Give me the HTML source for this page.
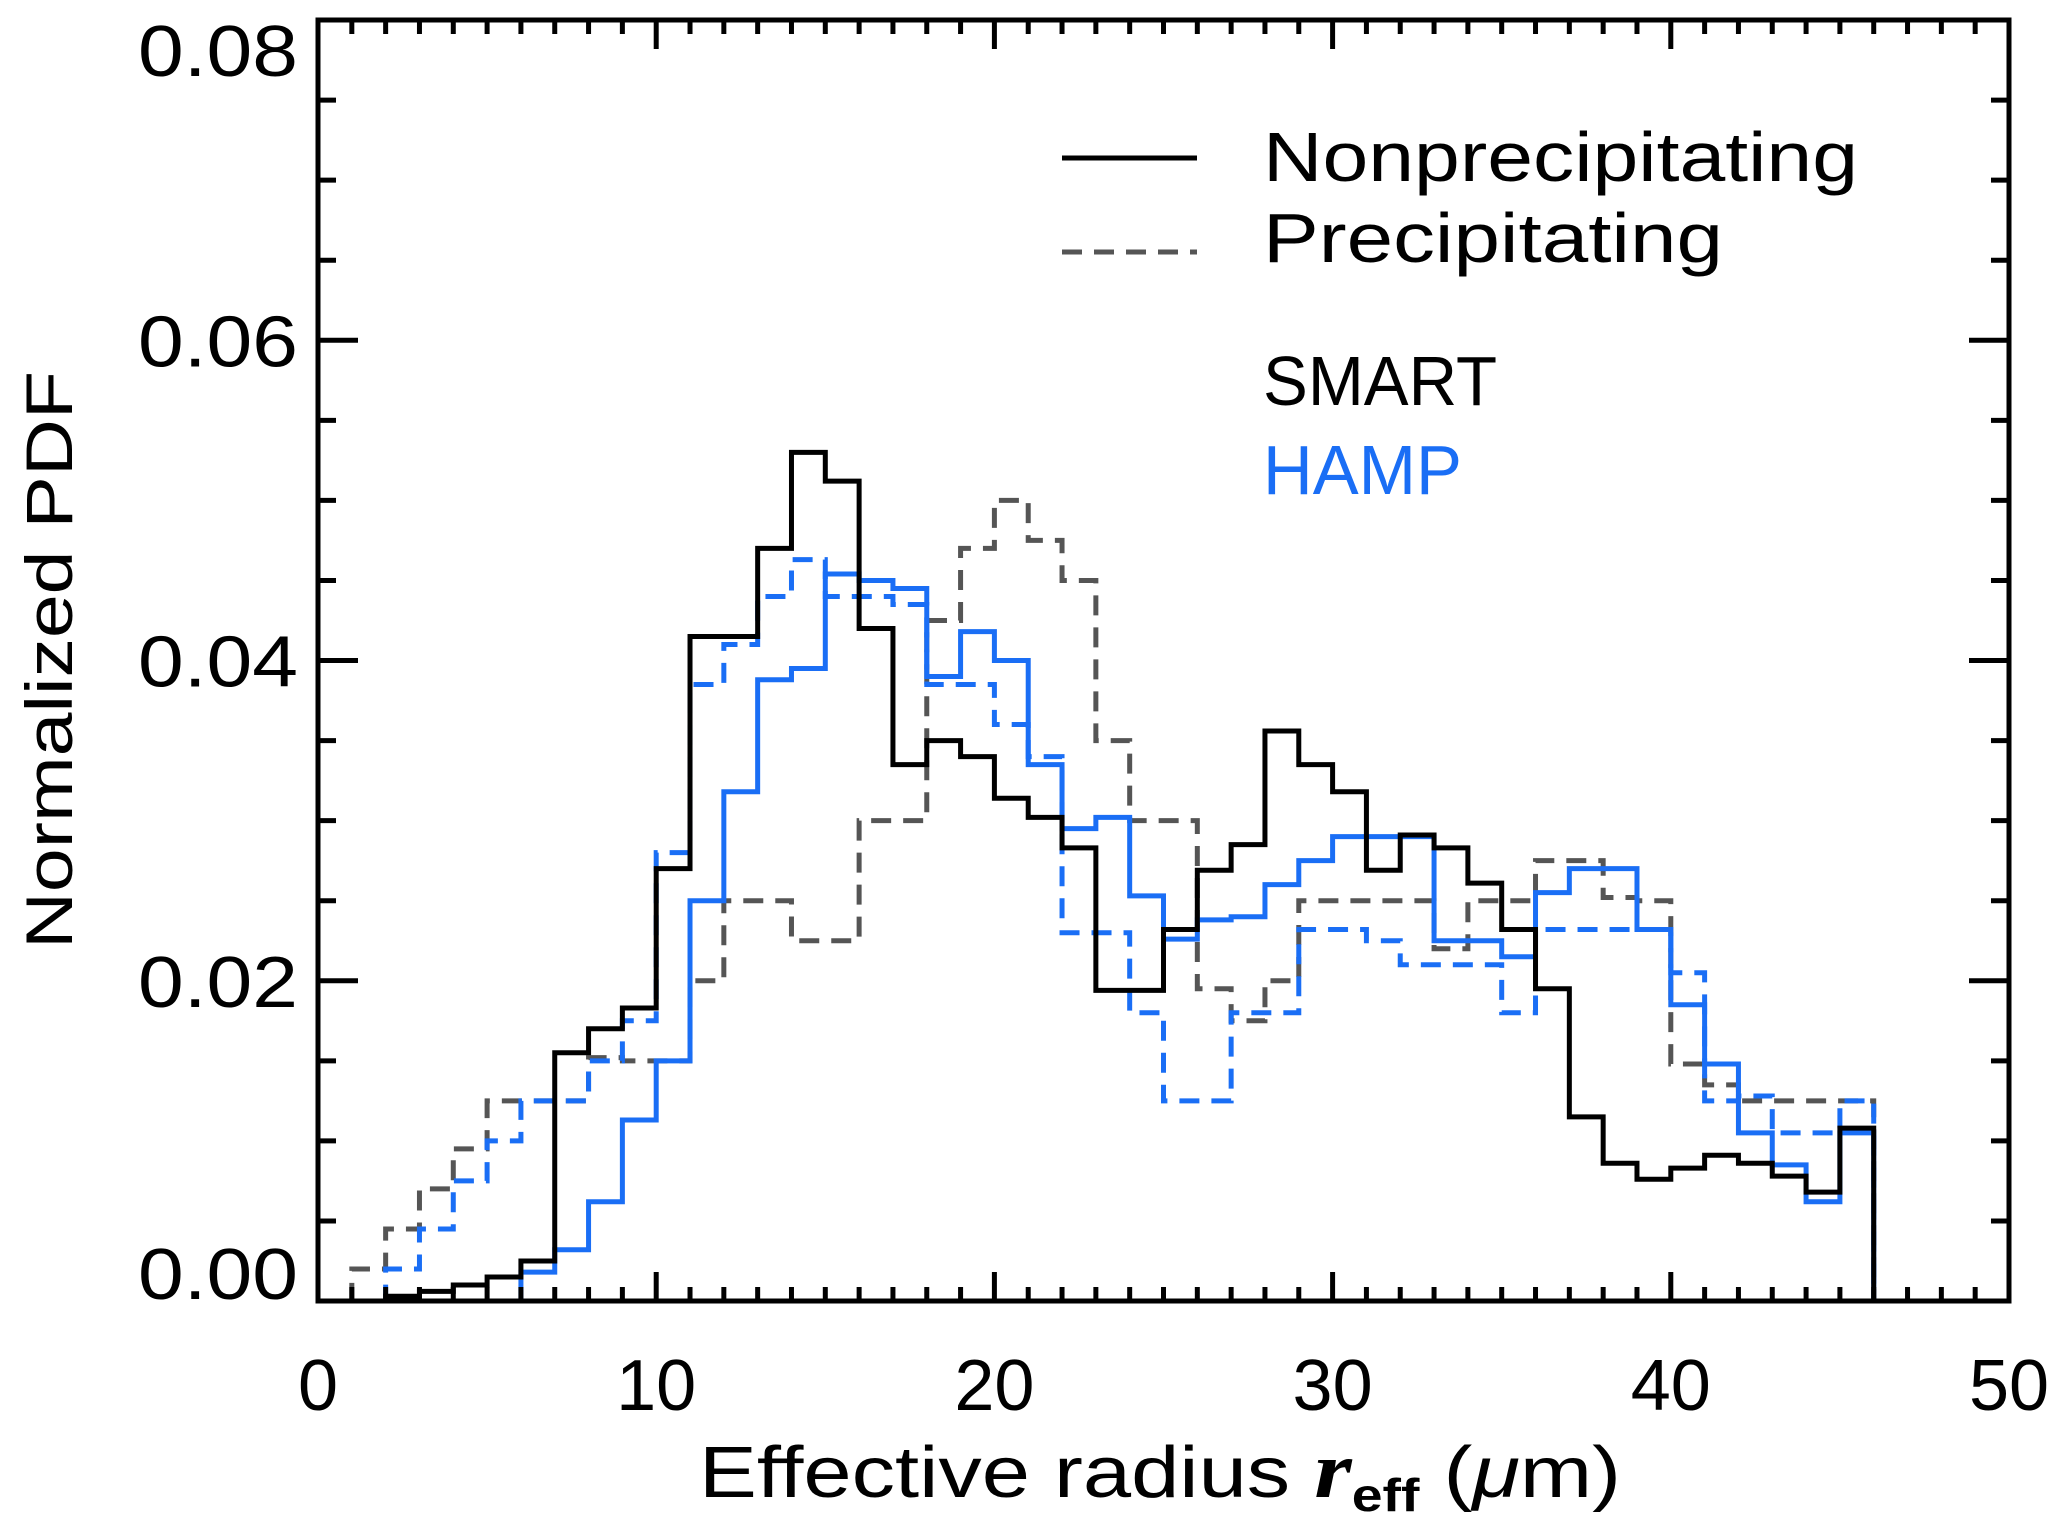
<!DOCTYPE html>
<html><head><meta charset="utf-8"><style>html,body{margin:0;padding:0;background:#fff}svg{display:block}</style></head>
<body>
<svg id="chart" width="2067" height="1535" viewBox="0 0 2067 1535" xmlns="http://www.w3.org/2000/svg" font-family="Liberation Sans, sans-serif">
<g id="marks"></g>
<g id="axes"></g>
<text x="0" y="0" transform="translate(72,660) rotate(-90)" text-anchor="middle" font-size="66" textLength="578" lengthAdjust="spacingAndGlyphs">Normalized PDF</text>
<text x="699" y="1497" font-size="72" textLength="922" lengthAdjust="spacingAndGlyphs">Effective  radius <tspan font-style="italic" font-weight="bold" font-family="Liberation Serif, serif" font-size="80">r</tspan><tspan font-size="46" dy="14" font-weight="bold">eff</tspan><tspan dy="-14"> (</tspan><tspan font-style="italic">μ</tspan>m)</text>
<g>
<line x1="1062" y1="158" x2="1197" y2="158" stroke="#000" stroke-width="5"/>
<text x="1263" y="181" font-size="70" textLength="595" lengthAdjust="spacingAndGlyphs">Nonprecipitating</text>
<line x1="1062" y1="252" x2="1197" y2="252" stroke="#555" stroke-width="5" stroke-dasharray="20,12"/>
<text x="1263" y="262" font-size="70" textLength="460" lengthAdjust="spacingAndGlyphs">Precipitating</text>
<text x="1263" y="405" font-size="70" textLength="234" lengthAdjust="spacingAndGlyphs">SMART</text>
<text x="1263" y="494" font-size="70" fill="#1a6ef5" textLength="199" lengthAdjust="spacingAndGlyphs">HAMP</text>
</g>
</svg>
<script>
const binStart = 0;
const binWidth = 1;
const xTicks = [0,10,20,30,40,50];
const yTicks = [0.00,0.02,0.04,0.06,0.08];
const yTickLabels = ["0.00","0.02","0.04","0.06","0.08"];
const smartNonprecip = [0,0,0.0003,0.0006,0.001,0.0015,0.0025,0.0155,0.017,0.0183,0.027,0.0415,0.0415,0.047,0.053,0.0512,0.042,0.0335,0.035,0.034,0.0314,0.0302,0.0283,0.0194,0.0194,0.0232,0.0269,0.0285,0.0356,0.0335,0.0318,0.0269,0.0291,0.0283,0.0261,0.0232,0.0195,0.0115,0.0086,0.0076,0.0083,0.0091,0.0086,0.0078,0.0068,0.0108];
const hampNonprecip = [0,0,0,0,0,0,0.0018,0.0032,0.0062,0.0113,0.015,0.025,0.0318,0.0388,0.0395,0.0454,0.045,0.0445,0.039,0.0418,0.040,0.0335,0.0295,0.0302,0.0253,0.0226,0.0238,0.024,0.026,0.0275,0.029,0.029,0.029,0.0225,0.0225,0.0215,0.0255,0.027,0.027,0.0232,0.0185,0.0148,0.0105,0.0085,0.0062,0.0105];
const smartPrecip = [0,0.002,0.0045,0.007,0.0095,0.0125,0.0125,0.0125,0.0152,0.015,0.015,0.020,0.025,0.025,0.0225,0.0225,0.030,0.030,0.0425,0.047,0.050,0.0475,0.045,0.035,0.030,0.030,0.0195,0.0175,0.020,0.025,0.025,0.025,0.025,0.022,0.025,0.025,0.0275,0.0275,0.0252,0.025,0.0148,0.0135,0.0125,0.0125,0.0125,0.0125];
const hampPrecip = [0,0,0.002,0.0045,0.0075,0.01,0.0125,0.0125,0.015,0.0175,0.028,0.0385,0.041,0.044,0.0463,0.044,0.044,0.0435,0.0385,0.0385,0.036,0.034,0.023,0.023,0.018,0.0125,0.0125,0.018,0.018,0.0232,0.0232,0.0225,0.021,0.021,0.021,0.018,0.0232,0.0232,0.0232,0.0232,0.0205,0.0125,0.0128,0.0105,0.0105,0.0125];

const L=318,R=2009,T=20,B=1301;
const X0=0,X1=50,Y0=0,Y1=0.08;
function sx(v){return L+(v-X0)/(X1-X0)*(R-L);}
function sy(v){return B-(v-Y0)/(Y1-Y0)*(B-T);}
const NS='http://www.w3.org/2000/svg';
const marks=document.getElementById('marks');
const axes=document.getElementById('axes');

function stepPath(vals){
  let d='M'+sx(binStart)+','+sy(0);
  vals.forEach((v,i)=>{
    const a=binStart+i*binWidth,b=a+binWidth;
    d+=' L'+sx(a)+','+sy(v)+' L'+sx(b)+','+sy(v);
  });
  d+=' L'+sx(binStart+vals.length*binWidth)+','+sy(0);
  return d;
}
function addSeries(vals,color,dash,name){
  const p=document.createElementNS(NS,'path');
  p.setAttribute('d',stepPath(vals));
  p.setAttribute('fill','none');
  p.setAttribute('stroke',color);
  p.setAttribute('stroke-width','5');
  if(dash)p.setAttribute('stroke-dasharray',dash);
  
  
  marks.appendChild(p);
}
addSeries(smartPrecip,'#555','20,12','smart-precipitating-line');
addSeries(hampPrecip,'#1a6ef5','20,12','hamp-precipitating-line');
addSeries(hampNonprecip,'#1a6ef5',null,'hamp-nonprecipitating-line');
addSeries(smartNonprecip,'#000',null,'smart-nonprecipitating-line');

function line(x1,y1,x2,y2,w,name){
  const l=document.createElementNS(NS,'line');
  l.setAttribute('x1',x1);l.setAttribute('y1',y1);l.setAttribute('x2',x2);l.setAttribute('y2',y2);
  l.setAttribute('stroke','#000');l.setAttribute('stroke-width',w);
  
  
  axes.appendChild(l);
}
const fr=document.createElementNS(NS,'rect');
fr.setAttribute('x',L);fr.setAttribute('y',T);fr.setAttribute('width',R-L);fr.setAttribute('height',B-T);
fr.setAttribute('fill','none');fr.setAttribute('stroke','#000');fr.setAttribute('stroke-width','5');


axes.appendChild(fr);
for(let v=X0;v<=X1;v+=1){
  const major=(v%10===0);const len=major?29:14;
  line(sx(v),B,sx(v),B-len,5,'x-tick');
  line(sx(v),T,sx(v),T+len,5,'x-tick-top');
}
for(let v=0;v<=16;v++){
  const val=v*0.005;const major=(v%4===0);const len=major?40:18;
  line(L,sy(val),L+len,sy(val),5,'y-tick');
  line(R,sy(val),R-len,sy(val),5,'y-tick-right');
}
xTicks.forEach(v=>{
  const t=document.createElementNS(NS,'text');
  t.setAttribute('x',sx(v));t.setAttribute('y',1410);
  t.setAttribute('text-anchor','middle');t.setAttribute('font-size','72');
  
  
  t.textContent=String(v);axes.appendChild(t);
});
yTicks.forEach((v,i)=>{
  const t=document.createElementNS(NS,'text');
  const off = i===0 ? -2 : (i===yTicks.length-1 ? 56 : 26);
  t.setAttribute('x',298);t.setAttribute('y',sy(v)+off);
  t.setAttribute('text-anchor','end');t.setAttribute('font-size','72');
  t.setAttribute('textLength','160');t.setAttribute('lengthAdjust','spacingAndGlyphs');
  
  
  t.textContent=yTickLabels[i];axes.appendChild(t);
});
</script>
</body></html>
